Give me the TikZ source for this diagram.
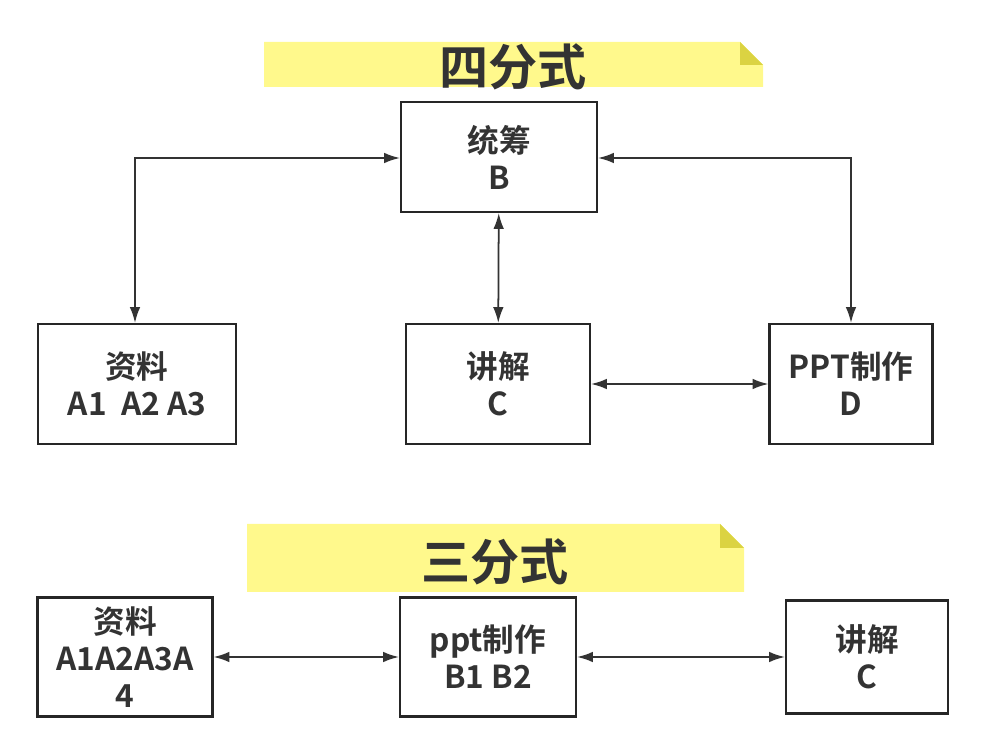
\documentclass[tikz,border=0pt]{standalone}
\usepackage{fontspec}
\setmainfont{Noto Sans CJK SC}[BoldFont={Noto Sans CJK SC Bold}]
\usetikzlibrary{arrows.meta}
\tikzset{
  box/.style={draw=black!85, line width=1.2pt, align=center, font=\fontsize{18}{21}\selectfont\bfseries, text=black!80},
  link/.style={{Latex[length=9pt,width=6pt]}-{Latex[length=9pt,width=6pt]}, line width=1pt, black!80},
  note/.style={fill=yellow!45!white, draw=none}
}
\begin{document}
\begin{tikzpicture}[x=0.02cm, y=-0.02cm]
\useasboundingbox (0,0) rectangle (985,753);
				% banners
				\fill[yellow!45] (264,42) -- (740,42) -- (763,65) -- (763,87) -- (264,87) -- cycle;
				\fill[yellow!55!olive!70] (740,42) -- (763,65) -- (740,65) -- cycle;
				\node[font=\fontsize{28}{32}\selectfont\bfseries, text=black!80] (t1) at (513,67) {四分式};
				\fill[yellow!45] (247,524) -- (720,524) -- (744,548) -- (744,592) -- (247,592) -- cycle;
				\fill[yellow!55!olive!70] (720,524) -- (744,548) -- (720,548) -- cycle;
				\node[font=\fontsize{28}{32}\selectfont\bfseries, text=black!80] (t2) at (495,562) {三分式};
				% four-part layout
				\node[box, minimum width=3.92cm, minimum height=2.2cm] (B) at (499,157) {统筹\\B};
				\node[box, minimum width=3.96cm, minimum height=2.4cm] (A) at (137,384) {资料\\A1\ \ A2 A3};
				\node[box, minimum width=3.68cm, minimum height=2.4cm] (C) at (498,384) {讲解\\C};
				\node[box, minimum width=3.26cm, minimum height=2.4cm] (D) at (851,384) {PPT制作\\D};
				\draw[link] (B.west |- 0,158) -| (A.north -| 135,0);
				\draw[link] (B.east |- 0,158) -| (D.north);
				\draw[link] (B) -- (C);
				\draw[link] (C) -- (D);
				% three-part layout
				\node[box, minimum width=3.5cm, minimum height=2.38cm] (A2) at (125,657) {资料\\A1A2A3A\\4};
				\node[box, minimum width=3.52cm, minimum height=2.38cm] (P2) at (488,657) {ppt制作\\B1 B2};
				\node[box, minimum width=3.24cm, minimum height=2.26cm] (C2) at (867,657) {讲解\\C};
				\draw[link] (A2) -- (P2);
				\draw[link] (P2) -- (C2);
\end{tikzpicture}
\end{document}
